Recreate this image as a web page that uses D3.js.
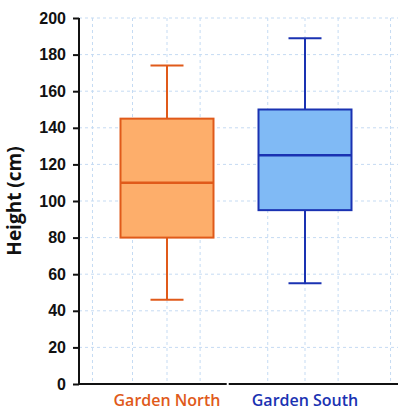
<!DOCTYPE html>
<html>
<head>
<meta charset="utf-8">
<script src="https://cdn.jsdelivr.net/npm/d3@7"></script>
<style>
  body { margin: 0; background: #fff; }
  svg { display: block; font-family: "Open Sans", "Noto Sans", sans-serif; }
</style>
</head>
<body>
<div id="chart"></div>
<script>
// data
var gardens = ["Garden North", "Garden South"];
var whiskerLow = [46, 55];
var q1 = [80, 95];
var medians = [110, 125];
var q3 = [145, 150];
var whiskerHigh = [174, 189];
var yTicks = [0, 20, 40, 60, 80, 100, 120, 140, 160, 180, 200];
// vertical grid positions, in category units (North = 1, South = 2)
var xGrid = [0.46, 0.75, 1, 1.24, 1.73, 2, 2.24, 2.62];
var axisGap = 1.44;

var fills = ["#fdae6b", "#80baf5"];
var strokes = ["#e05a1a", "#1a32b2"];

var W = 400, H = 418;
var plot = {left: 79, right: 398, top: 18, bottom: 384};

var svg = d3.select("#chart")
  .append("svg")
    .attr("width", W)
    .attr("height", H);

var x = d3.scaleLinear().domain([1, 2]).range([167, 305]);
var y = d3.scaleLinear().domain([0, 200]).range([plot.bottom, plot.top]);

var rows = gardens.map(function(g, i) {
  return { name: g, lo: whiskerLow[i], q1: q1[i], med: medians[i], q3: q3[i], hi: whiskerHigh[i], i: i };
});

// grid
var grid = svg.append("g").attr("class", "grid")
  .attr("stroke", "#c5dbf3")
  .attr("stroke-width", 1)
  .attr("stroke-dasharray", "3,3");

grid.selectAll(".hg")
  .data(yTicks.filter(function(d) { return d > 0; }))
  .join("line")
    .attr("x1", plot.left)
    .attr("x2", plot.right)
    .attr("y1", function(d) { return y(d); })
    .attr("y2", function(d) { return y(d); });

grid.selectAll(".vg")
  .data(xGrid)
  .join("line")
    .attr("x1", function(d) { return x(d); })
    .attr("x2", function(d) { return x(d); })
    .attr("y1", plot.top)
    .attr("y2", plot.bottom);

// boxes
var boxW = 93, capW = 33;
var box = svg.selectAll(".box")
  .data(rows)
  .join("g")
    .attr("class", "box")
    .attr("stroke", function(d) { return strokes[d.i]; });

box.append("line")
  .attr("x1", function(d) { return x(d.i + 1); })
  .attr("x2", function(d) { return x(d.i + 1); })
  .attr("y1", function(d) { return y(d.hi); })
  .attr("y2", function(d) { return y(d.lo); })
  .attr("stroke-width", 2);

box.selectAll(".cap")
  .data(function(d) { return [{ v: d.hi, i: d.i }, { v: d.lo, i: d.i }]; })
  .join("line")
    .attr("x1", function(d) { return x(d.i + 1) - capW / 2; })
    .attr("x2", function(d) { return x(d.i + 1) + capW / 2; })
    .attr("y1", function(d) { return y(d.v); })
    .attr("y2", function(d) { return y(d.v); })
    .attr("stroke-width", 2);

box.append("rect")
  .attr("x", function(d) { return x(d.i + 1) - boxW / 2; })
  .attr("width", boxW)
  .attr("y", function(d) { return y(d.q3); })
  .attr("height", function(d) { return y(d.q1) - y(d.q3); })
  .attr("fill", function(d) { return fills[d.i]; })
  .attr("stroke-width", 2);

box.append("line")
  .attr("x1", function(d) { return x(d.i + 1) - boxW / 2; })
  .attr("x2", function(d) { return x(d.i + 1) + boxW / 2; })
  .attr("y1", function(d) { return y(d.med); })
  .attr("y2", function(d) { return y(d.med); })
  .attr("stroke-width", 2.5);

// y axis
var yAxis = d3.axisLeft(y)
  .tickValues(yTicks)
  .tickSize(6)
  .tickPadding(7);

var gy = svg.append("g")
  .attr("transform", "translate(" + plot.left + ",0)")
  .call(yAxis);
gy.select(".domain").attr("stroke", "#111").attr("stroke-width", 2).attr("d", "M0," + plot.top + "V" + plot.bottom);
gy.selectAll(".tick line").attr("stroke", "#111").attr("stroke-width", 2);
gy.selectAll(".tick text")
  .attr("fill", "#111")
  .style("font-size", "16px")
  .style("font-weight", 600);

// x axis line with the small break between groups
svg.append("line")
  .attr("x1", plot.left - 1).attr("x2", plot.right)
  .attr("y1", plot.bottom).attr("y2", plot.bottom)
  .attr("stroke", "#111").attr("stroke-width", 2);
svg.append("rect")
  .attr("x", x(axisGap) - 1).attr("width", 2)
  .attr("y", plot.bottom - 2).attr("height", 4)
  .attr("fill", "#fff");

svg.selectAll(".cat")
  .data(rows)
  .join("text")
    .attr("class", "cat")
    .attr("x", function(d) { return x(d.i + 1); })
    .attr("y", 406)
    .attr("text-anchor", "middle")
    .attr("fill", function(d) { return strokes[d.i]; })
    .style("font-size", "16px")
    .style("font-weight", 600)
    .text(function(d) { return d.name; });

svg.append("text")
  .attr("transform", "translate(21," + ((plot.top + plot.bottom) / 2) + ") rotate(-90)")
  .attr("text-anchor", "middle")
  .attr("fill", "#111")
  .style("font-size", "19px")
  .style("font-weight", 700)
  .text("Height (cm)");
</script>
</body>
</html>
